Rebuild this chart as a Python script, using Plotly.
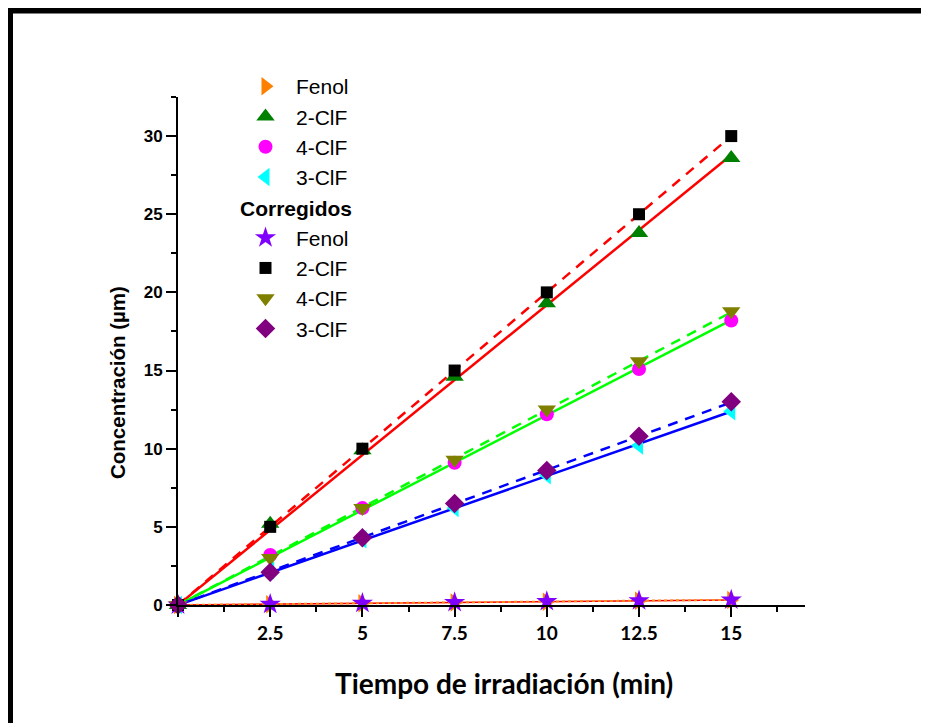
import numpy as np
import plotly.graph_objects as go

tiempo = [0, 2.5, 5, 7.5, 10, 12.5, 15]

fenol = [0, 0.05, 0.11, 0.16, 0.21, 0.27, 0.32]
clf2 = [0, 5.2, 9.9, 14.6, 19.3, 23.8, 28.6]
clf4 = [0, 3.2, 6.2, 9.1, 12.2, 15.1, 18.2]
clf3 = [0, 2.2, 4.2, 6.2, 8.3, 10.2, 12.4]

fenol_c = [0, 0.05, 0.11, 0.17, 0.22, 0.28, 0.33]
clf2_c = [0, 5.0, 10.0, 15.0, 20.0, 25.0, 30.0]
clf4_c = [0, 3.0, 6.2, 9.3, 12.5, 15.6, 18.8]
clf3_c = [0, 2.1, 4.3, 6.5, 8.6, 10.8, 13.0]

x_ticks = [0, 2.5, 5, 7.5, 10, 12.5, 15]
x_ticktext = ["", "2.5", "5", "7.5", "10", "12.5", "15"]

x = np.array(tiempo)


def fit_origin(y):
    y = np.array(y)
    k = (x * y).sum() / (x * x).sum()
    return k * x


fig = go.Figure()

# fitted lines
fits = [
    (fenol, "#FF0000", "solid", 1.5),
    (fenol_c, "#FF8C1A", "dot", 2),
    (clf2, "#FF0000", "solid", 2.5),
    (clf2_c, "#FF0000", "10px,8px", 2.5),
    (clf4, "#00FF00", "solid", 2.5),
    (clf4_c, "#00FF00", "10px,8px", 2.5),
    (clf3, "#0000FF", "solid", 2.5),
    (clf3_c, "#0000FF", "10px,8px", 2.5),
]
for yv, col, dash, w in fits:
    fig.add_trace(go.Scatter(x=tiempo, y=fit_origin(yv), mode="lines",
                             line=dict(color=col, dash=dash, width=w),
                             showlegend=False, hoverinfo="skip", cliponaxis=False))

series = [
    ("Fenol", fenol, "triangle-right", "#FF8000", 16, "raw"),
    ("2-ClF", clf2, "triangle-up", "#008000", 16, "raw"),
    ("4-ClF", clf4, "circle", "#FF00FF", 14, "raw"),
    ("3-ClF", clf3, "triangle-left", "#00FFFF", 16, "raw"),
    ("Fenol", fenol_c, "star", "#8000FF", 16, "corr"),
    ("2-ClF", clf2_c, "square", "#000000", 12, "corr"),
    ("4-ClF", clf4_c, "triangle-down", "#808000", 16, "corr"),
    ("3-ClF", clf3_c, "diamond", "#800080", 15, "corr"),
]
for name, yv, sym, col, size, grp in series:
    kw = {}
    if grp == "corr":
        kw["legendgrouptitle"] = dict(text="<b>Corregidos</b>",
                                      font=dict(size=21, family="Liberation Sans, Arial", color="black"))
    fig.add_trace(go.Scatter(x=tiempo, y=yv, mode="markers", name=name,
                             marker=dict(symbol=sym, color=col, size=size, line=dict(width=0)),
                             legendgroup=grp, cliponaxis=False, **kw))

axis_common = dict(showline=True, linecolor="black", linewidth=2, ticks="outside",
                   tickcolor="black", tickwidth=2, ticklen=10, showgrid=False, zeroline=False,
                   mirror=False)

# page content is offset by 8 px, so the figure is laid out 8 px smaller
W, H = 921, 715
L, T, R, B = 170, 89, 124, 118
pw, ph = W - L - R, H - T - B


def px_x(px):
    return (px - L) / pw


def px_y(py):
    return (H - B - py) / ph


fig.update_layout(
    width=W, height=H,
    margin=dict(l=L, r=R, t=T, b=B),
    paper_bgcolor="white", plot_bgcolor="white",
    xaxis=dict(range=[0, 17], tickmode="array", tickvals=x_ticks, ticktext=x_ticktext,
               tickfont=dict(family="Lato", size=19, color="black", weight="bold"),
               minor=dict(tickmode="linear", tick0=0, dtick=1.25, ticks="outside", ticklen=5,
                          tickwidth=2, tickcolor="black"),
               **axis_common),
    yaxis=dict(range=[0, 32.5], tickmode="linear", tick0=0, dtick=5,
               tickfont=dict(family="Liberation Sans, Arial", size=17, color="black", weight="bold"),
               minor=dict(tickmode="linear", tick0=0, dtick=2.5, ticks="outside", ticklen=5,
                          tickwidth=2, tickcolor="black"),
               **axis_common),
    legend=dict(x=px_x(227), y=px_y(58), xanchor="left", yanchor="top", bgcolor="rgba(0,0,0,0)",
                font=dict(family="Liberation Sans, Arial", size=21, color="black"),
                tracegroupgap=0, traceorder="grouped", itemsizing="trace", itemwidth=51),
    annotations=[
        dict(text="<b>Concentración (µm)</b>", x=px_x(109), y=px_y(375), xref="paper", yref="paper",
             textangle=-90, showarrow=False, xanchor="center", yanchor="middle",
             font=dict(family="Liberation Sans, Arial", size=20.5, color="black")),
        dict(text="<b>Tiempo de irradiación (min)</b>", x=px_x(496), y=px_y(675), xref="paper",
             yref="paper", showarrow=False, xanchor="center", yanchor="middle",
             font=dict(family="Lato", size=28, color="black")),
    ],
    shapes=[
        dict(type="line", xref="paper", yref="paper", x0=px_x(-2), x1=px_x(W + 5),
             y0=px_y(2.5), y1=px_y(2.5), line=dict(color="black", width=6)),
        dict(type="line", xref="paper", yref="paper", x0=px_x(2), x1=px_x(2),
             y0=px_y(0), y1=px_y(H + 5), line=dict(color="black", width=6)),
    ],
)

fig.write_html("out.html")
